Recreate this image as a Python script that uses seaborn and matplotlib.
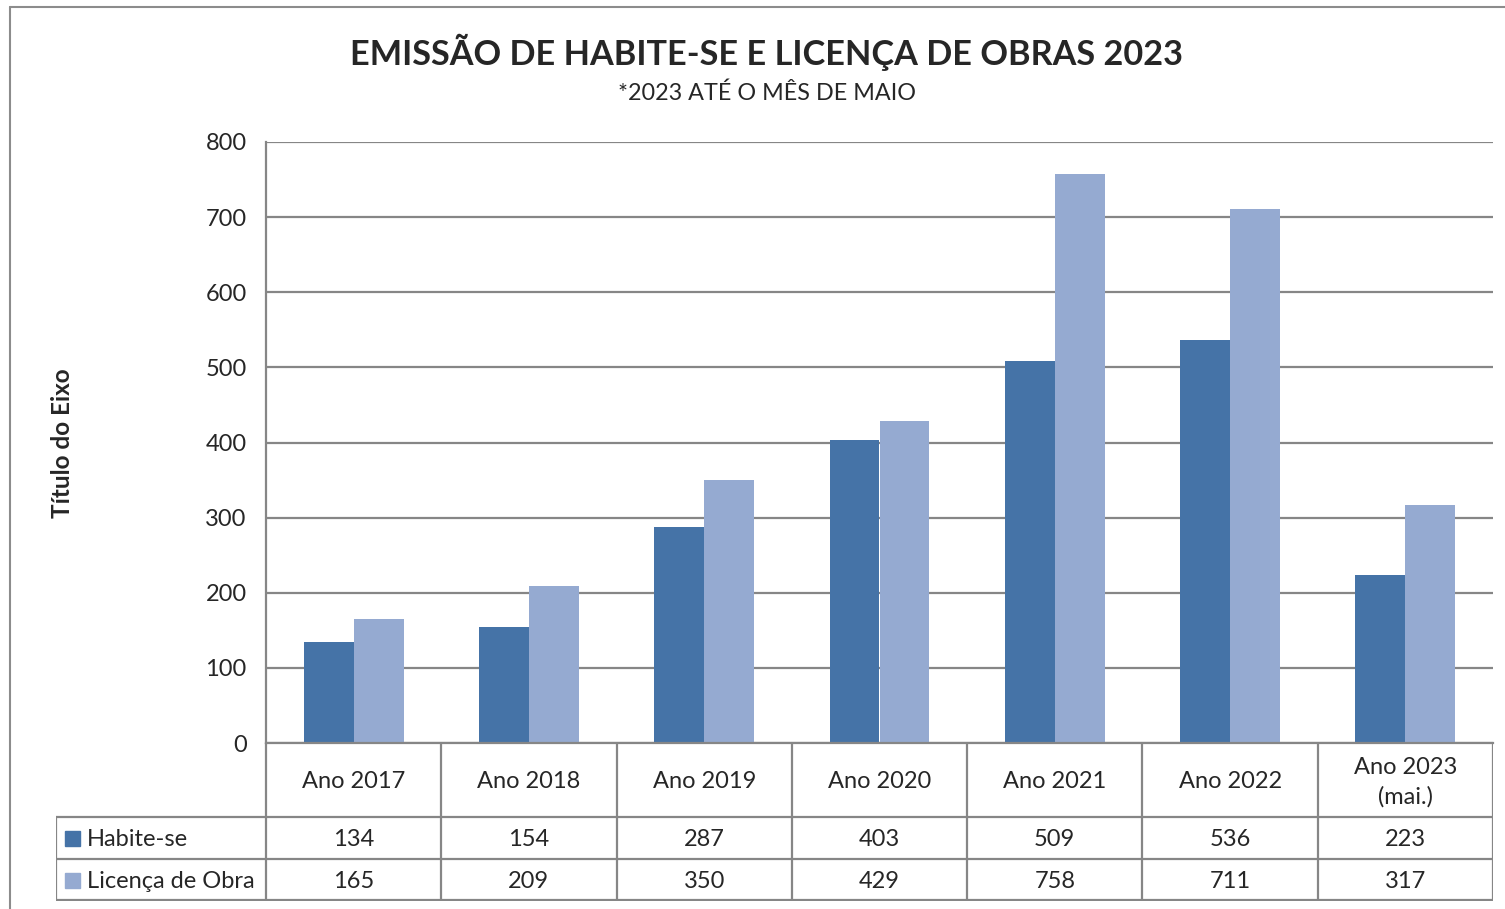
import matplotlib
matplotlib.use("Agg")
import matplotlib.pyplot as plt
import seaborn as sns
import pandas as pd
import numpy as np
from matplotlib.patches import Rectangle

# dados
anos = ["Ano 2017", "Ano 2018", "Ano 2019", "Ano 2020", "Ano 2021", "Ano 2022", "Ano 2023\n(mai.)"]
habite_se = [134, 154, 287, 403, 509, 536, 223]
licenca_obra = [165, 209, 350, 429, 758, 711, 317]
series = ["Habite-se", "Licença de Obra"]
cores = ["#4573A7", "#95AAD1"]

df = pd.DataFrame({"ano": anos * 2,
                   "valor": habite_se + licenca_obra,
                   "serie": [series[0]] * len(anos) + [series[1]] * len(anos)})

sns.set_style("white")
plt.rcParams["font.family"] = ["Lato", "DejaVu Sans"]

W, H = 1505, 909
fig = plt.figure(figsize=(W / 100, H / 100), dpi=100)

# pixel helpers
def fx(px):
    return px / W

def fy(py):
    return 1 - py / H

left, right, top, bottom = 266, 1493, 142, 743
ax = fig.add_axes([fx(left), fy(bottom), fx(right - left), (bottom - top) / H])

sns.barplot(data=df, x="ano", y="valor", hue="serie", palette=cores, width=0.57,
            saturation=1, ax=ax, legend=False, edgecolor="none")
ax.set_xlim(-0.5, len(anos) - 0.5)
ax.set_ylim(0, 800)
ax.set_yticks(range(0, 801, 100))
ax.tick_params(axis="y", labelsize=17, length=0, pad=14)
ax.set_xticks([])
ax.set_xlabel("")
ax.set_ylabel("")
ax.yaxis.grid(True, color="#868686", linewidth=1.6)
ax.set_axisbelow(True)
for s in ["top", "right"]:
    ax.spines[s].set_visible(False)
for s in ["left", "bottom"]:
    ax.spines[s].set_color("#868686")
    ax.spines[s].set_linewidth(1.6)

fig.text(fx(62), fy(443), "Título do Eixo", rotation=90, ha="center", va="center",
         fontsize=17.5, fontweight="bold")

# tabela de dados abaixo do grafico
tab_left, tab_bottom = 56, 901
tax = fig.add_axes([fx(tab_left), fy(tab_bottom), fx(right - tab_left), (tab_bottom - bottom) / H])
tax.set_xlim(tab_left, right)
tax.set_ylim(tab_bottom, bottom)
tax.axis("off")
colw = (right - left) / len(anos)
row1, row2 = 817, 859
lc = "#868686"
lw = 1.6
tax.plot([tab_left, right], [row1, row1], color=lc, lw=lw)
tax.plot([tab_left, right], [row2, row2], color=lc, lw=lw)
tax.plot([tab_left, right], [tab_bottom - 1, tab_bottom - 1], color=lc, lw=lw)
tax.plot([tab_left, tab_left], [row1, tab_bottom], color=lc, lw=lw)
for i in range(len(anos) + 1):
    xb = left + i * colw
    tax.plot([xb, xb], [bottom, tab_bottom], color=lc, lw=lw)

for i, ano in enumerate(anos):
    xc = left + (i + 0.5) * colw
    tax.text(xc, (bottom + row1) / 2 + 2, ano, ha="center", va="center", fontsize=17,
             linespacing=1.45)
    tax.text(xc, (row1 + row2) / 2 + 2, str(habite_se[i]), ha="center", va="center", fontsize=17)
    tax.text(xc, (row2 + tab_bottom) / 2 + 2, str(licenca_obra[i]), ha="center", va="center", fontsize=17)

for k, (nome, cor) in enumerate(zip(series, cores)):
    yc = (row1 + row2) / 2 if k == 0 else (row2 + tab_bottom) / 2
    tax.add_patch(Rectangle((65, yc - 7.5), 15, 15, color=cor))
    tax.text(87, yc + 1, nome, ha="left", va="center", fontsize=17)

# borda externa
fig.add_artist(plt.Line2D([fx(10), fx(10)], [fy(7), 0], color="#8C8C8C", lw=1.5))
fig.add_artist(plt.Line2D([fx(10), 1], [fy(7), fy(7)], color="#8C8C8C", lw=1.5))

fig.text(fx(766), fy(52), "EMISSÃO DE HABITE-SE E LICENÇA DE OBRAS 2023", ha="center",
         va="center", fontsize=24.7, fontweight="bold")
fig.text(fx(767), fy(93), "*2023 ATÉ O MÊS DE MAIO", ha="center", va="center", fontsize=16.8)

fig.savefig("out.png", dpi=100)
